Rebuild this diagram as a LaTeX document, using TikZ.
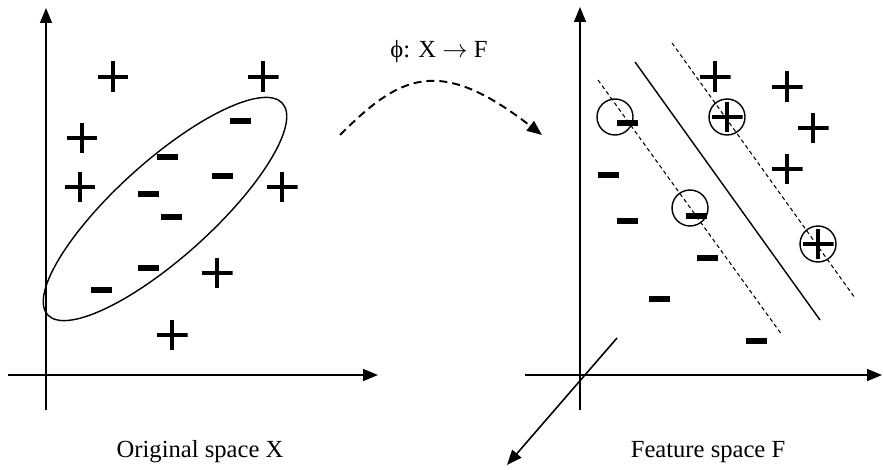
\documentclass[tikz,border=0pt]{standalone}
\usepackage{fontspec}
\setmainfont{Liberation Serif}
\usetikzlibrary{arrows.meta,positioning}

\begin{document}
\begin{tikzpicture}[
    x=0.02cm, y=-0.02cm,
    axis/.style={line width=0.9pt, -{Triangle[length=0.3cm,width=0.24cm]}},
    plusmark/.style={inner sep=0pt, minimum size=0.62cm, path picture={
        \draw[line width=0.09cm] (path picture bounding box.north) -- (path picture bounding box.south)
            (path picture bounding box.west) -- (path picture bounding box.east);}},
    minusmark/.style={fill, inner sep=0pt, minimum width=0.42cm, minimum height=0.11cm},
    support/.style={circle, draw, line width=0.8pt, inner sep=0pt, minimum size=0.72cm},
    margin/.style={line width=0.6pt, dash pattern=on 0.08cm off 0.06cm},
    lbl/.style={font=\fontsize{14}{16}\selectfont},
]
\useasboundingbox (0,0) rectangle (884,469);

\coordinate (ly0) at (46,410);
\coordinate (ly1) at (46,8);
\coordinate (lx0) at (8,375);
\coordinate (lx1) at (378,375);
\draw[axis] (ly0) -- (ly1);
\draw[axis] (lx0) -- (lx1);

\draw[line width=0.8pt, rotate around={42:(165,209)}] (165,209) ellipse [x radius=158, y radius=48];

\node[plusmark] (lp1) at (113,77) {};
\node[plusmark] (lp2) at (263,77) {};
\node[plusmark] (lp3) at (82,138) {};
\node[plusmark] (lp4) at (80,187) {};
\node[plusmark] (lp5) at (282,187) {};
\node[plusmark] (lp6) at (217,273) {};
\node[plusmark] (lp7) at (172,335) {};
\node[minusmark] (lm1) at (240,121) {};
\node[minusmark] (lm2) at (167,157) {};
\node[minusmark] (lm3) at (222,176) {};
\node[minusmark] (lm4) at (148,194) {};
\node[minusmark] (lm5) at (171,217) {};
\node[minusmark] (lm6) at (148,268) {};
\node[minusmark] (lm7) at (101,290) {};

\node[lbl] (origlbl) at (200,452) {Original space X};

\node[lbl] (maplbl) at (439,52) {ϕ: X $\rightarrow$ F};
\coordinate (mapstart) at (340,135);
\coordinate (mapend) at (542,135);
\draw[line width=1.1pt, dash pattern=on 0.16cm off 0.1cm, -{Triangle[length=0.3cm,width=0.24cm]}]
    (mapstart) .. controls (400,75) and (439,55) .. (mapend);

\coordinate (ry0) at (580,410);
\coordinate (ry1) at (580,7);
\coordinate (rx0) at (525,375);
\coordinate (rx1) at (882,375);
\coordinate (rz0) at (617,338);
\coordinate (rz1) at (507,465);
\draw[axis] (ry0) -- (ry1);
\draw[axis] (rx0) -- (rx1);
\draw[axis] (rz0) -- (rz1);

\coordinate (hp0) at (635,62);
\coordinate (hp1) at (820,320);
\coordinate (up0) at (672,43);
\coordinate (up1) at (855,298);
\coordinate (dn0) at (598,80);
\coordinate (dn1) at (782,335);
\draw[line width=0.8pt] (hp0) -- (hp1);
\draw[margin] (up0) -- (up1);
\draw[margin] (dn0) -- (dn1);

\node[plusmark] (rp1) at (715,77) {};
\node[plusmark] (rp2) at (787,87) {};
\node[plusmark] (rp3) at (813,128) {};
\node[plusmark] (rp4) at (787,169) {};
\node[plusmark] (rp5) at (727,117) {};
\node[plusmark] (rp6) at (818,244) {};
\node[minusmark] (rm1) at (627,123) {};
\node[minusmark] (rm2) at (608,175) {};
\node[minusmark] (rm3) at (627,221) {};
\node[minusmark] (rm4) at (696,216) {};
\node[minusmark] (rm5) at (707,258) {};
\node[minusmark] (rm6) at (659,299) {};
\node[minusmark] (rm7) at (756,341) {};

\node[support] (sv1) at (615,117) {};
\node[support] (sv2) at (690,208) {};
\node[support] (sv3) at (727,117) {};
\node[support] (sv4) at (818,244) {};

\node[lbl] (featlbl) at (708,452) {Feature space F};
\end{tikzpicture}
\end{document}
